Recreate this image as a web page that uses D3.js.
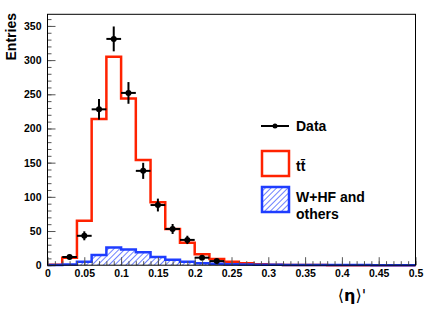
<!DOCTYPE html>
<html>
<head>
<meta charset="utf-8">
<script src="https://cdn.jsdelivr.net/npm/d3@7"></script>
<style>
body { margin: 0; background: #fff; }
svg text { font-family: "Liberation Sans", Arial, sans-serif; font-weight: bold; }
</style>
</head>
<body>
<script>
// bins of width 0.02 from 0 to 0.5
const binEdges = d3.range(25).map(i => i * 0.02);
const ttbar = [0.5, 11, 65, 214, 305, 244, 154, 92, 53, 33, 16, 9, 5, 3, 1.5, 0.5,
               0.3, 0.2, 0.2, 0.1, 0.1, 0.1, 0.1, 0, 0];
const whf = [0.3, 1, 5, 15, 26, 23, 19, 12, 8, 5, 3, 2, 1.5, 1, 0.8,
             0.5, 0.4, 0.3, 0.3, 0.2, 0.2, 0.2, 0.1, 0.1, 0.1];
const dataX = [0.03, 0.05, 0.07, 0.09, 0.11, 0.13, 0.15, 0.17, 0.19, 0.21, 0.23];
const dataY = [12, 43, 228, 331, 252, 138, 88, 53, 37, 11, 6];
const xTicks = [0, 0.05, 0.1, 0.15, 0.2, 0.25, 0.3, 0.35, 0.4, 0.45, 0.5];
const xTickLabels = ["0", "0.05", "0.1", "0.15", "0.2", "0.25", "0.3", "0.35", "0.4", "0.45", "0.5"];
const yTicks = [0, 50, 100, 150, 200, 250, 300, 350];

const w = 436, h = 311;
const red = "#ff2200", blue = "#1f3dff";

const x = d3.scaleLinear().domain([0, 0.5]).range([47.5, 415.5]);
const y = d3.scaleLinear().domain([0, 367]).range([265.2, 14.3]);

const svg = d3.select("body").append("svg")
  .attr("width", w).attr("height", h);

const defs = svg.append("defs");
defs.append("pattern")
  .attr("id", "hatch")
  .attr("patternUnits", "userSpaceOnUse")
  .attr("width", 4).attr("height", 4)
  .attr("patternTransform", "rotate(45)")
  .append("line")
  .attr("x1", 0).attr("y1", 0).attr("x2", 0).attr("y2", 4)
  .attr("stroke", blue).attr("stroke-width", 1.3);

// step points for a histogram
function steps(vals) {
  const pts = vals.map((v, i) => [binEdges[i], v]);
  pts.push([0.5, vals[vals.length - 1]]);
  return pts;
}
const stepLine = d3.line().x(d => x(d[0])).y(d => y(d[1])).curve(d3.curveStepAfter);
const stepArea = d3.area().x(d => x(d[0])).y0(y(0)).y1(d => y(d[1])).curve(d3.curveStepAfter);

// ttbar
svg.append("path")
  .attr("d", stepLine(steps(ttbar)))
  .attr("fill", "none").attr("stroke", red).attr("stroke-width", 2.5);

// W+HF
svg.append("path")
  .attr("d", stepArea(steps(whf)))
  .attr("fill", "url(#hatch)");
svg.append("path")
  .attr("d", stepLine(steps(whf)))
  .attr("fill", "none").attr("stroke", blue).attr("stroke-width", 2.5);

// axes
const yAxis = d3.axisLeft(y).tickValues(yTicks).tickSize(-8).tickPadding(6).tickFormat(d3.format("d"));
const yMinor = d3.axisLeft(y).tickValues(d3.range(0, 361, 10)).tickSize(-4).tickFormat("");
const xAxis = d3.axisBottom(x).tickValues(xTicks).tickSize(-8).tickPadding(4)
  .tickFormat((d, i) => xTickLabels[i]);
const xMinor = d3.axisBottom(x).tickValues(d3.range(0, 51).map(i => i / 100)).tickSize(-4).tickFormat("");

function styleAxis(g) {
  g.select(".domain").remove();
  g.selectAll(".tick line").attr("stroke", "#555");
  g.selectAll("text").attr("fill", "#000").style("font-size", "10.5px");
}
svg.append("g").attr("transform", `translate(${x(0)},0)`).call(yMinor).call(styleAxis);
svg.append("g").attr("transform", `translate(${x(0)},0)`).call(yAxis).call(styleAxis);
svg.append("g").attr("transform", `translate(0,${y(0)})`).call(xMinor).call(styleAxis);
svg.append("g").attr("transform", `translate(0,${y(0)})`).call(xAxis).call(styleAxis);

// frame
svg.append("rect")
  .attr("x", x(0)).attr("y", y(367))
  .attr("width", x(0.5) - x(0)).attr("height", y(0) - y(367))
  .attr("fill", "none").attr("stroke", "#000").attr("stroke-width", 1);

// data points
const pts = svg.append("g");
dataX.forEach((cx, i) => {
  const v = dataY[i], e = Math.sqrt(v);
  pts.append("line")
    .attr("x1", x(cx - 0.01)).attr("x2", x(cx + 0.01))
    .attr("y1", y(v)).attr("y2", y(v))
    .attr("stroke", "#000").attr("stroke-width", 2);
  pts.append("line")
    .attr("x1", x(cx)).attr("x2", x(cx))
    .attr("y1", y(v - e)).attr("y2", y(v + e))
    .attr("stroke", "#000").attr("stroke-width", 2);
  pts.append("circle")
    .attr("cx", x(cx)).attr("cy", y(v)).attr("r", 3)
    .attr("fill", "#000");
});

// axis titles
svg.append("text")
  .attr("transform", "translate(16,13) rotate(-90)")
  .attr("text-anchor", "end")
  .style("font-size", "14px")
  .text("Entries");
const xt = svg.append("text")
  .attr("x", 352).attr("y", 301)
  .attr("text-anchor", "middle")
  .style("font-size", "16px").style("font-weight", "normal")
  .style("font-family", "'DejaVu Sans', sans-serif");
xt.append("tspan").text("\u27E8");
xt.append("tspan").style("font-weight", "bold").text("\u03B7");
xt.append("tspan").text("\u27E9'");

// legend
const lg = svg.append("g");
lg.append("line").attr("x1", 261).attr("x2", 289).attr("y1", 126).attr("y2", 126)
  .attr("stroke", "#000").attr("stroke-width", 2);
lg.append("circle").attr("cx", 275).attr("cy", 126).attr("r", 2.5).attr("fill", "#000");
lg.append("text").attr("x", 296).attr("y", 131).style("font-size", "14px").text("Data");

lg.append("rect").attr("x", 262).attr("y", 151).attr("width", 27).attr("height", 25)
  .attr("fill", "#fff").attr("stroke", red).attr("stroke-width", 2.5);
lg.append("text").attr("x", 296).attr("y", 171).style("font-size", "14px").text("tt\u0304");

lg.append("rect").attr("x", 262).attr("y", 187).attr("width", 27).attr("height", 25)
  .attr("fill", "url(#hatch)").attr("stroke", blue).attr("stroke-width", 2.5);
lg.append("text").attr("x", 296).attr("y", 201.5).style("font-size", "14px").text("W+HF and");
lg.append("text").attr("x", 296).attr("y", 219).style("font-size", "14px").text("others");
</script>
</body>
</html>
